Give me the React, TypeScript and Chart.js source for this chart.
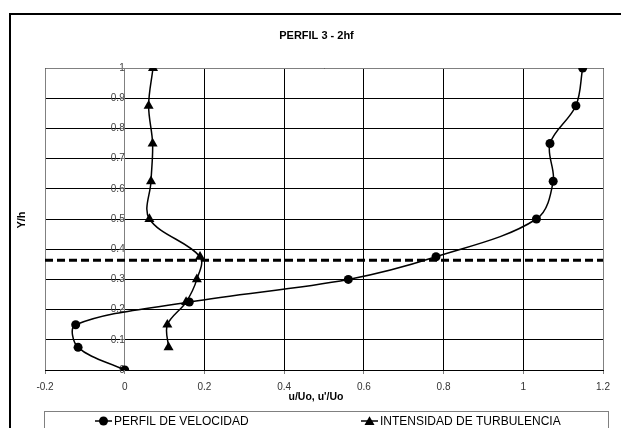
import React, { useEffect, useRef } from "react";
import { Chart, registerables } from "chart.js";

Chart.register(...registerables);

// ---- data ----
const velocityY = [0, 0.075, 0.15, 0.225, 0.3, 0.375, 0.5, 0.625, 0.75, 0.875, 1.0];
const velocityX = [0, -0.117, -0.123, 0.162, 0.561, 0.781, 1.033, 1.075, 1.067, 1.132, 1.149];
const turbulenceY = [0.075, 0.15, 0.225, 0.3, 0.375, 0.5, 0.625, 0.75, 0.875, 1.0];
const turbulenceX = [0.11, 0.107, 0.154, 0.181, 0.189, 0.062, 0.066, 0.07, 0.06, 0.071];
const referenceLevel = [0.363];
const xTickValues = [-0.2, 0, 0.2, 0.4, 0.6, 0.8, 1, 1.2];
const yTickValues = [0, 0.1, 0.2, 0.3, 0.4, 0.5, 0.6, 0.7, 0.8, 0.9, 1];
const seriesNames = ["PERFIL DE VELOCIDAD", "INTENSIDAD DE TURBULENCIA"];
const chartTitle = "PERFIL 3 - 2hf";
const xTitle = "u/Uo, u'/Uo";
const yTitle = "Y/h";

const FONT = "Arial, 'Liberation Sans', sans-serif";

function fmt(v: number) {
  return String(Math.round(v * 10) / 10);
}

function drawMarker(ctx: CanvasRenderingContext2D, kind: string, x: number, y: number) {
  ctx.fillStyle = "#000";
  ctx.beginPath();
  if (kind === "circle") {
    ctx.arc(x, y, 4.5, 0, Math.PI * 2);
  } else {
    const r = 5.8;
    ctx.moveTo(x, y - r);
    ctx.lineTo(x + r * Math.sin((2 * Math.PI) / 3), y + r * 0.5);
    ctx.lineTo(x - r * Math.sin((2 * Math.PI) / 3), y + r * 0.5);
    ctx.closePath();
  }
  ctx.fill();
}

const decorPlugin = {
  id: "decor",
  beforeDraw(chart: any) {
    const ctx = chart.ctx as CanvasRenderingContext2D;
    ctx.save();
    ctx.fillStyle = "#fff";
    ctx.fillRect(0, 0, chart.width, chart.height);
    ctx.strokeStyle = "#000";
    ctx.lineWidth = 2;
    ctx.strokeRect(10, 14, chart.width + 40, chart.height + 40);
    ctx.restore();
  },
  beforeDatasetsDraw(chart: any) {
    const ctx = chart.ctx as CanvasRenderingContext2D;
    const { left, top, right, bottom } = chart.chartArea;
    const l = Math.round(left) + 0.5;
    const r = Math.round(right) + 0.5;
    const t = Math.round(top) + 0.5;
    ctx.save();
    ctx.strokeStyle = "#808080";
    ctx.lineWidth = 1;
    ctx.beginPath();
    ctx.moveTo(l, bottom);
    ctx.lineTo(l, t);
    ctx.lineTo(r, t);
    ctx.lineTo(r, bottom);
    ctx.stroke();
    ctx.restore();
  },
  afterDraw(chart: any) {
    const ctx = chart.ctx as CanvasRenderingContext2D;
    ctx.save();
    ctx.fillStyle = "#000";
    ctx.textAlign = "center";
    ctx.textBaseline = "middle";
    ctx.font = `bold 11px ${FONT}`;
    ctx.fillText(chartTitle, 316.5, 36);
    ctx.font = `bold 10.5px ${FONT}`;
    ctx.fillText(xTitle, 316, 397);
    ctx.save();
    ctx.translate(22, 220);
    ctx.rotate(-Math.PI / 2);
    ctx.font = `bold 11px ${FONT}`;
    ctx.fillText(yTitle, 0, 0);
    ctx.restore();

    // legend box
    ctx.strokeStyle = "#808080";
    ctx.lineWidth = 1;
    ctx.strokeRect(44.5, 411.5, 564, 40);
    const items = [
      { x: 95, kind: "circle", text: seriesNames[0] },
      { x: 361, kind: "triangle", text: seriesNames[1] },
    ];
    const ly = 421;
    ctx.font = `12px ${FONT}`;
    ctx.textAlign = "left";
    for (const it of items) {
      ctx.strokeStyle = "#000";
      ctx.lineWidth = 1.5;
      ctx.beginPath();
      ctx.moveTo(it.x, ly);
      ctx.lineTo(it.x + 17, ly);
      ctx.stroke();
      drawMarker(ctx, it.kind, it.x + 8.5, it.kind === "circle" ? ly : ly + 1);
      ctx.fillStyle = "#000";
      ctx.fillText(it.text, it.x + 19, ly + 0.5);
    }
    ctx.restore();
  },
};

export default function App() {
  const ref = useRef<HTMLCanvasElement | null>(null);

  useEffect(() => {
    if (!ref.current) return;
    Chart.defaults.font.family = FONT;
    const chart = new Chart(ref.current, {
      type: "scatter",
      data: {
        datasets: [
          {
            label: seriesNames[0],
            data: velocityX.map((x, i) => ({ x, y: velocityY[i] })),
            showLine: true,
            tension: 0.35,
            borderColor: "#000",
            backgroundColor: "#000",
            borderWidth: 1.5,
            pointStyle: "circle",
            pointRadius: 4.5,
            pointBorderWidth: 0,
            order: 2,
          },
          {
            label: seriesNames[1],
            data: turbulenceX.map((x, i) => ({ x, y: turbulenceY[i] })),
            showLine: true,
            tension: 0.35,
            borderColor: "#000",
            backgroundColor: "#000",
            borderWidth: 1.5,
            pointStyle: "triangle",
            pointRadius: 5.8,
            pointBorderWidth: 0,
            order: 1,
          },
          {
            label: "ref",
            data: [
              { x: xTickValues[0], y: referenceLevel[0] },
              { x: xTickValues[xTickValues.length - 1], y: referenceLevel[0] },
            ],
            showLine: true,
            borderColor: "#000",
            borderWidth: 3,
            borderDash: [8, 4],
            pointRadius: 0,
            order: 0,
          },
        ],
      },
      options: {
        responsive: false,
        animation: false,
        devicePixelRatio: 1,
        layout: { padding: { left: 45, right: 18, top: 68, bottom: 0 } },
        plugins: {
          legend: { display: false },
          tooltip: { enabled: false },
          title: { display: false },
        },
        scales: {
          x: {
            type: "linear",
            position: "bottom",
            min: xTickValues[0],
            max: xTickValues[xTickValues.length - 1],
            afterBuildTicks: (s: any) => {
              s.ticks = xTickValues.map((v) => ({ value: v }));
            },
            afterFit: (s: any) => {
              s.height = 58;
            },
            grid: { color: "#000", lineWidth: 1, tickColor: "#808080", tickLength: 4 },
            border: { color: "#000", width: 1 },
            ticks: {
              color: "#333",
              font: { size: 10, family: FONT },
              padding: 7,
              maxRotation: 0,
              autoSkip: false,
              callback: (v: any) => fmt(Number(v)),
            },
          },
          y: {
            type: "linear",
            position: { x: 0 } as any,
            min: yTickValues[0],
            max: yTickValues[yTickValues.length - 1],
            afterBuildTicks: (s: any) => {
              s.ticks = yTickValues.map((v) => ({ value: v }));
            },
            grid: { color: "#000", lineWidth: 1, tickColor: "#808080", tickLength: 4 },
            border: { color: "#808080", width: 1 },
            ticks: {
              color: "#444",
              font: { size: 10, family: FONT },
              padding: 7,
              autoSkip: false,
              callback: (v: any) => fmt(Number(v)),
            },
          },
        },
      },
      plugins: [decorPlugin],
    } as any);
    return () => chart.destroy();
  }, []);

  return (
    <div style={{ position: "fixed", left: 0, top: 0, width: 621, height: 428, overflow: "hidden" }}>
      <canvas ref={ref} width={621} height={428} style={{ display: "block" }} />
    </div>
  );
}
